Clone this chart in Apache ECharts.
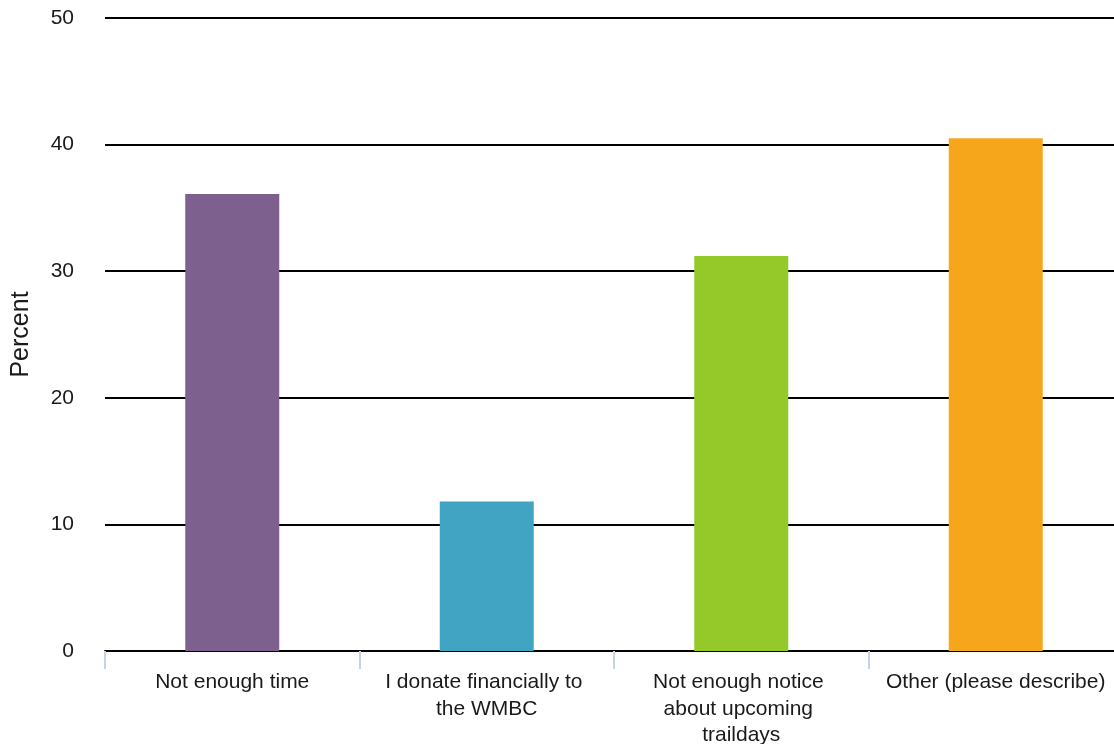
<!DOCTYPE html>
<html>
<head>
<meta charset="utf-8">
<script src="https://cdn.jsdelivr.net/npm/echarts@6/dist/echarts.min.js"></script>
<style>html,body{margin:0;padding:0;background:#fff;}#c{width:1114px;height:744px;}</style>
</head>
<body>
<div id="c"></div>
<script>
const categories = ["Not enough time", "I donate financially to the WMBC", "Not enough notice about upcoming traildays", "Other (please describe)"];
const values = [36.1, 11.8, 31.2, 40.5];
const barColors = ["#7d608e", "#41a4c3", "#95c92a", "#f5a61b"];
const yTicks = { min: 0, max: 50, interval: 10 };

const chart = echarts.init(document.getElementById('c'), null, { renderer: 'canvas' });
chart.setOption({
  animation: false,
  backgroundColor: '#fff',
  grid: { left: 105, top: 18, width: 1018, bottom: 93, containLabel: false, outerBoundsMode: 'none' },
  xAxis: {
    type: 'category',
    data: categories,
    boundaryGap: true,
    axisLine: { show: true, lineStyle: { color: '#000', width: 2 } },
    axisTick: { show: true, length: 18, lineStyle: { color: '#c6d2ea', width: 2 } },
    axisLabel: {
      interval: 0, margin: 18, fontSize: 21, color: '#1a1a1a',
      fontFamily: 'Liberation Sans, Arial, sans-serif',
      width: 225, overflow: 'break', lineHeight: 26.5, align: 'center'
    }
  },
  yAxis: {
    type: 'value',
    min: yTicks.min, max: yTicks.max, interval: yTicks.interval,
    name: 'Percent', nameLocation: 'middle', nameGap: 71,
    nameTextStyle: { fontSize: 25, color: '#1a1a1a', fontFamily: 'Liberation Sans, Arial, sans-serif' },
    axisLine: { show: false },
    axisTick: { show: false },
    axisLabel: { fontSize: 21, color: '#1a1a1a', margin: 31, padding: [4, 0, 0, 0], fontFamily: 'Liberation Sans, Arial, sans-serif' },
    splitLine: { show: true, lineStyle: { color: '#000', width: 2 } }
  },
  series: [{
    type: 'bar',
    data: values.map((v, i) => ({ value: v, itemStyle: { color: barColors[i] } })),
    barWidth: 94
  }]
});
</script>
</body>
</html>
